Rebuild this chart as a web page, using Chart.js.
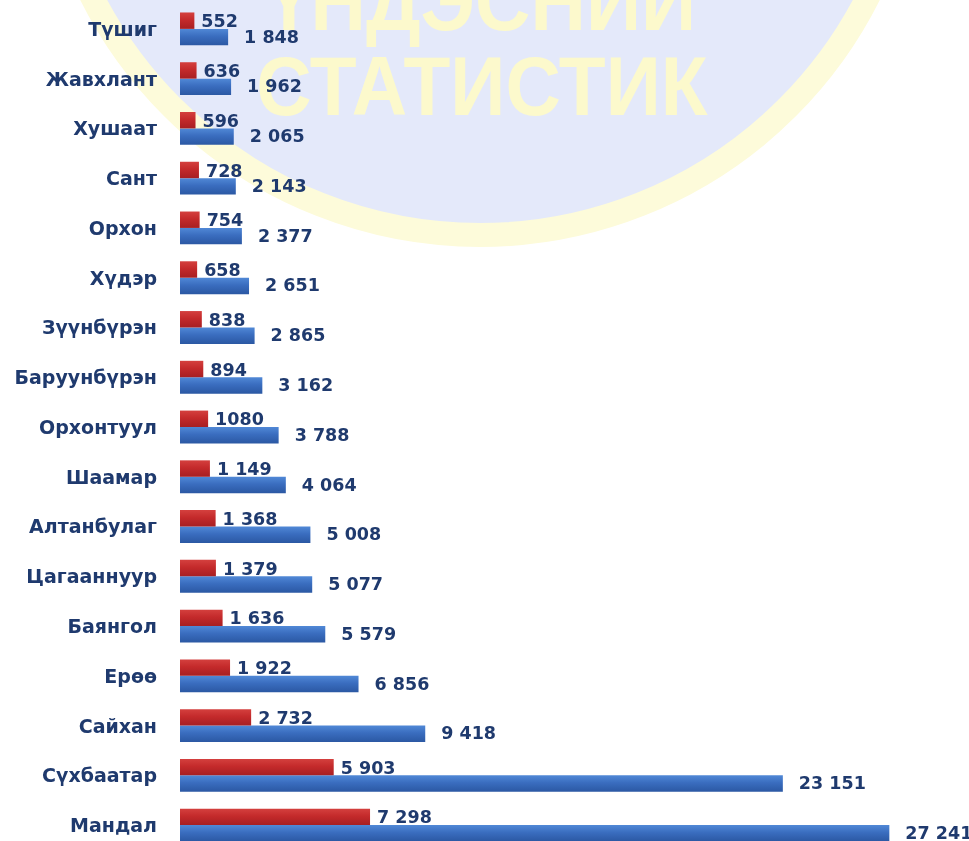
<!DOCTYPE html>
<html>
<head>
<meta charset="utf-8">
<script src="https://cdn.jsdelivr.net/npm/chart.js@4.4.1/dist/chart.umd.min.js"></script>
<style>
  html, body { margin: 0; padding: 0; background: #ffffff; overflow: hidden; }
  #wrap { position: relative; width: 969px; height: 852px; overflow: hidden; }
  /* background seal */
  #seal {
    position: absolute; left: 33px; top: -647px; width: 894px; height: 894px;
    border-radius: 50%; box-sizing: border-box;
    background: #e4e9fa; border: 24px solid #fdfbda;
  }
  .wm {
    position: absolute; left: 0; width: 964px; text-align: center;
    font: bold 84px "Liberation Sans", Arial, sans-serif; line-height: 1;
    color: #fcf9cc; transform: scaleX(0.913); transform-origin: 482px 0;
    white-space: nowrap;
  }
  #cv { position: absolute; left: 0; top: 0; }
</style>
</head>
<body>
<div id="wrap">
  <div id="seal"></div>
  <div class="wm" style="top:-41px">ҮНДЭСНИЙ</div>
  <div class="wm" style="top:44px">СТАТИСТИК</div>
  <canvas id="cv" width="969" height="852"></canvas>
</div>
<script>
// Сумдын нэрс (дээрээс доош)
var sumuud = ["Түшиг", "Жавхлант", "Хушаат", "Сант", "Орхон", "Хүдэр", "Зүүнбүрэн",
  "Баруунбүрэн", "Орхонтуул", "Шаамар", "Алтанбулаг", "Цагааннуур", "Баянгол",
  "Ерөө", "Сайхан", "Сүхбаатар", "Мандал"];

// улаан багана
var utgaUlaan = [552, 636, 596, 728, 754, 658, 838, 894, 1080, 1149, 1368, 1379, 1636,
  1922, 2732, 5903, 7298];

// цэнхэр багана
var utgaTsenher = [1848, 1962, 2065, 2143, 2377, 2651, 2865, 3162, 3788, 4064, 5008,
  5077, 5579, 6856, 9418, 23151, 27241];

var tenhleg = 30300; // x тэнхлэгийн дээд хязгаар

// тоог "1 848" хэлбэрээр бичих
function formatToo(v) {
  return String(v).replace(/\B(?=(\d{3})+(?!\d))/g, " ");
}
var textUlaan = utgaUlaan.map(formatToo);
textUlaan[8] = "1080"; // эх зураг дээр зайгүй бичигдсэн
var textTsenher = utgaTsenher.map(formatToo);

var labelFont = "'DejaVu Sans', sans-serif";
var textColor = "#1f3a6e";

// багана бүрт босоо градиент (дээрээ цайвар, доороо бараан)
function gradient(colors) {
  return function (c) {
    var chart = c.chart;
    var y = chart.scales && chart.scales.y;
    if (!chart.chartArea || !y || c.dataIndex === undefined) return colors[1];
    var mid = y.getPixelForValue(c.dataIndex);
    var h = (y.bottom - y.top) / sumuud.length * 0.33;
    var top = c.datasetIndex === 0 ? mid - h : mid;
    var g = chart.ctx.createLinearGradient(0, top, 0, top + h);
    g.addColorStop(0, colors[0]);
    g.addColorStop(0.45, colors[1]);
    g.addColorStop(1, colors[2]);
    return g;
  };
}

// баганын ард утга бичих plugin
var utgaPlugin = {
  id: "utga",
  afterDatasetsDraw: function (chart) {
    var ctx = chart.ctx;
    ctx.save();
    ctx.font = "bold 17.5px " + labelFont;
    ctx.fillStyle = textColor;
    ctx.textAlign = "left";
    ctx.textBaseline = "middle";
    chart.getDatasetMeta(0).data.forEach(function (bar, i) {
      ctx.fillText(textUlaan[i], bar.x + 7, bar.y + 2);
    });
    chart.getDatasetMeta(1).data.forEach(function (bar, i) {
      ctx.fillText(textTsenher[i], bar.x + 16, bar.y + 1);
    });
    ctx.restore();
  }
};

var ctx = document.getElementById("cv").getContext("2d");
var myChart = new Chart(ctx, {
  type: "bar",
  data: {
    labels: sumuud,
    datasets: [{
      label: "Улаан",
      backgroundColor: gradient(["#d4403e", "#c42a2b", "#a71f22"]),
      data: utgaUlaan
    }, {
      label: "Цэнхэр",
      backgroundColor: gradient(["#5088d6", "#3a6dbf", "#2b58a3"]),
      data: utgaTsenher
    }]
  },
  options: {
    indexAxis: "y",
    responsive: false,
    animation: false,
    categoryPercentage: 0.66,
    barPercentage: 1,
    layout: { padding: { top: 4, bottom: 2, left: 0, right: 0 } },
    plugins: { legend: { display: false }, tooltip: { enabled: false } },
    scales: {
      x: { display: false, min: 0, max: tenhleg },
      y: {
        grid: { display: false, drawTicks: false },
        border: { display: false },
        ticks: {
          padding: 23,
          labelOffset: 2,
          color: textColor,
          font: { family: labelFont, size: 19, weight: "bold" }
        },
        afterFit: function (axis) {
          axis.width = 180;
          axis.paddingTop = 0;
          axis.paddingBottom = 0;
        }
      }
    }
  },
  plugins: [utgaPlugin]
});
</script>
</body>
</html>
